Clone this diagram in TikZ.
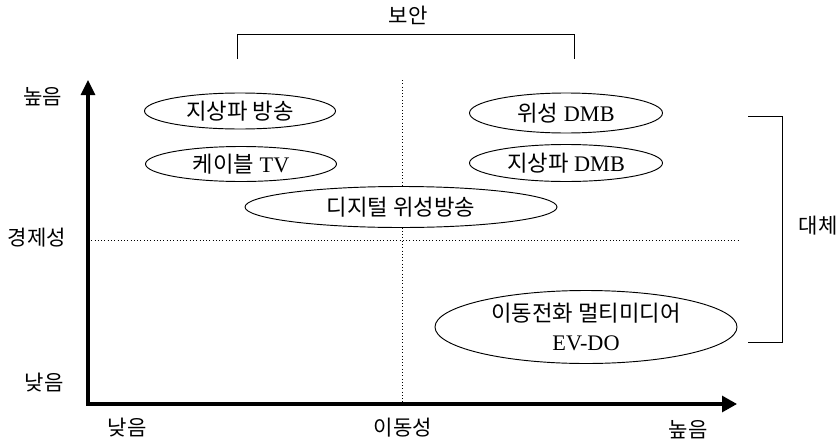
\documentclass[tikz,border=0pt]{standalone}
\usepackage{fontspec}
\setmainfont{Liberation Serif}
\newfontfamily\kr{Noto Sans CJK KR}
\usetikzlibrary{shapes.geometric,arrows.meta}
\tikzset{
  media/.style={ellipse,draw,fill=white,line width=0.8pt,inner sep=0pt,align=center,font=\fontsize{19}{24}\selectfont},
  axis/.style={line width=2.6pt,{Triangle[length=0.45cm,width=0.42cm]}-{Triangle[length=0.45cm,width=0.48cm]}},
  guide/.style={dotted,line width=0.8pt},
  brace/.style={line width=0.8pt},
  lbl/.style={font=\kr\fontsize{18}{21}\selectfont}
}
\begin{document}
\begin{tikzpicture}[x=0.03cm,y=-0.03cm]
    \useasboundingbox (0,0) rectangle (840,444);
    % axes
    \coordinate (ytop) at (88,80);
    \coordinate (origin) at (88,404);
    \coordinate (xend) at (737,404);
    \draw[guide] (402,80) -- (402,404);
    \draw[guide] (88,240) -- (740,240);
    \draw[axis] (ytop) -- (origin) -- (xend);
    % brackets
    \draw[brace] (237,59) |- (574,34) -- (574,59);
    \draw[brace] (748,116) -| (782,342) -- (748,342);
    \node[lbl] (boan) at (408,15){보안};
    \node[lbl] (daeche) at (818,226){대체};
    % axis labels
    \node[lbl] (yhigh) at (43,97){높음};
    \node[lbl] (ymid) at (37,238){경제성};
    \node[lbl] (ylow) at (44,383){낮음};
    \node[lbl] (xlow) at (127,428){낮음};
    \node[lbl] (xmid) at (403,428){이동성};
    \node[lbl] (xhigh) at (688,430){높음};
    % media
    \node[media,minimum width=191*0.03cm,minimum height=36*0.03cm] (terr) at (240,111){{\kr 지상파 방송}};
    \node[media,minimum width=191*0.03cm,minimum height=35*0.03cm] (cable) at (241,164){{\kr 케이블} TV};
    \node[media,minimum width=312*0.03cm,minimum height=41*0.03cm] (sat) at (401,207){{\kr 디지털 위성방송}};
    \node[media,minimum width=193*0.03cm,minimum height=40*0.03cm] (satdmb) at (566,113){{\kr 위성} DMB};
    \node[media,minimum width=193*0.03cm,minimum height=37*0.03cm] (terrdmb) at (566,163){{\kr 지상파} DMB};
    \node[media,minimum width=302*0.03cm,minimum height=73*0.03cm] (evdo) at (586,327){{\kr 이동전화 멀티미디어}\\EV-DO};
\end{tikzpicture}
\end{document}
